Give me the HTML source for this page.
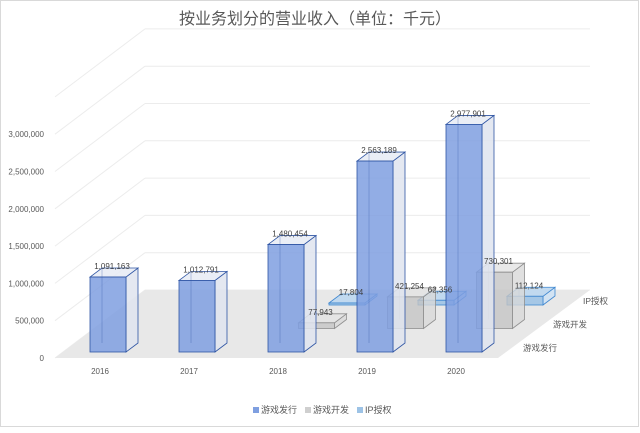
<!DOCTYPE html>
<html><head><meta charset="utf-8">
<style>
html,body{margin:0;padding:0;background:#fff;}
svg text{font-family:"Liberation Sans","Noto Sans CJK SC",sans-serif;}
</style></head>
<body>
<svg id="chart" width="640" height="428" viewBox="0 0 640 428" xmlns="http://www.w3.org/2000/svg">
  <rect x="0.5" y="0.5" width="638" height="426" fill="#fff" stroke="#d9d9d9"/>
  <text x="315" y="24" text-anchor="middle" font-size="16" fill="#595959">按业务划分的营业收入（单位：千元）</text>
  <g id="grid"></g>
  <g id="bars"></g>
  <g id="labels"></g>
  <g font-size="9" fill="#595959">
    <rect x="253" y="407" width="6" height="6" fill="#7f9fe0"/>
    <text x="261" y="413">游戏发行</text>
    <rect x="305" y="407" width="6" height="6" fill="#cfcfcf"/>
    <text x="313" y="413">游戏开发</text>
    <rect x="357" y="407" width="6" height="6" fill="#9dc3e6"/>
    <text x="365" y="413">IP授权</text>
  </g>
</svg>
<script>
const years = ["2016","2017","2018","2019","2020"];
const publishValues = [1091163, 1012791, 1480454, 2563189, 2977901];
const developValues = [null, null, 77943, 421254, 730301];
const ipValues = [null, null, 17804, 62356, 112124];
const rowNames = ["游戏发行","游戏开发","IP授权"];
const tickValues = [0,500000,1000000,1500000,2000000,2500000,3000000,3500000];
const tickLabels = ["0","500,000","1,000,000","1,500,000","2,000,000","2,500,000","3,000,000",""];

const NS="http://www.w3.org/2000/svg";
function mk(tag, attrs, parent){const e=document.createElementNS(NS,tag);for(const k in attrs)e.setAttribute(k,attrs[k]);parent.appendChild(e);return e;}
function fmt(v){return v.toLocaleString('en-US');}

const grid=document.getElementById('grid'), bars=document.getElementById('bars'), labels=document.getElementById('labels');
// axis functions
const tickStep=37.3/500000;
function yTick(v){return 358 - v*tickStep;}
function xYear(i){return 90 + i*89;}
function rowOffX(r){return r*30.5;}
function rowOffY(r){return -r*23.5;}
function hScale(x){return (68.7 + (x-108)*0.0217)/1e6;}

tickValues.forEach((v,i)=>{
  const yf=yTick(v), yb=yf-68;
  const l1=mk('line',{x1:55,y1:yf,x2:145,y2:yb,stroke:'#ececec','stroke-width':1},grid);
  
  
  const l2=mk('line',{x1:145,y1:yb,x2:590,y2:yb,stroke:'#ececec','stroke-width':1},grid);
  
  
  if(tickLabels[i]){
    const t=mk('text',{x:44,y:yf+3,'text-anchor':'end','font-size':8,fill:'#595959'},labels);
    t.textContent=tickLabels[i];
    
    
  }
});
const floor=mk('polygon',{points:'55,358 498,358 590,290 145,290',fill:'#e8e8e8'},grid);



const styles=[
  {front:'#7f9fe0',side:'#dfe4ee',top:'#e6ebf4',stroke:'#2f55a4',op:0.85},
  {front:'#c4c4c4',side:'#d8d8d8',top:'#e2e2e2',stroke:'#8f8f8f',op:0.8},
  {front:'#9dc3e6',side:'#cfe2f4',top:'#bcd7f0',stroke:'#3f87d0',op:0.9}
];
const series=[publishValues,developValues,ipValues];
const W=36, DX=12, DY=9;
for(let r=2;r>=0;r--){
  const vals=series[r], s=styles[r];
  vals.forEach((v,i)=>{
    if(v===null)return;
    const x0=xYear(i)+rowOffX(r), yb=352+rowOffY(r);
    const h=Math.max(2,v*hScale(x0+W/2));
    const yt=yb-h;
    const g=mk('g',{},bars);
    
    
    mk('polygon',{points:`${x0+W},${yb} ${x0+W+DX},${yb-DY} ${x0+W+DX},${yt-DY} ${x0+W},${yt}`,fill:s.side,'fill-opacity':s.op,stroke:s.stroke,'stroke-width':0.8},g);
    mk('polygon',{points:`${x0},${yt} ${x0+DX},${yt-DY} ${x0+W+DX},${yt-DY} ${x0+W},${yt}`,fill:s.top,'fill-opacity':s.op,stroke:s.stroke,'stroke-width':0.8},g);
    mk('rect',{x:x0,y:yt,width:W,height:h,fill:s.front,'fill-opacity':s.op,stroke:s.stroke,'stroke-width':0.8},g);
    mk('line',{x1:x0+DX,y1:yt-DY,x2:x0+DX,y2:yb-DY,stroke:s.stroke,'stroke-width':0.5,'stroke-opacity':0.6},g);
    const t=mk('text',{x:x0+W/2+4,y:yt-DY+1,'text-anchor':'middle','font-size':8,fill:'#404040'},labels);
    t.textContent=fmt(v);
    
    
  });
}
years.forEach((y,i)=>{
  const t=mk('text',{x:xYear(i)+10,y:374,'text-anchor':'middle','font-size':8,fill:'#595959'},labels);
  t.textContent=y;
  
  
});
rowNames.forEach((n,r)=>{
  const t=mk('text',{x:523+r*30,y:351-r*23.5,'font-size':8.5,fill:'#595959'},labels);
  t.textContent=n;
  
  
});
</script>
</body></html>
